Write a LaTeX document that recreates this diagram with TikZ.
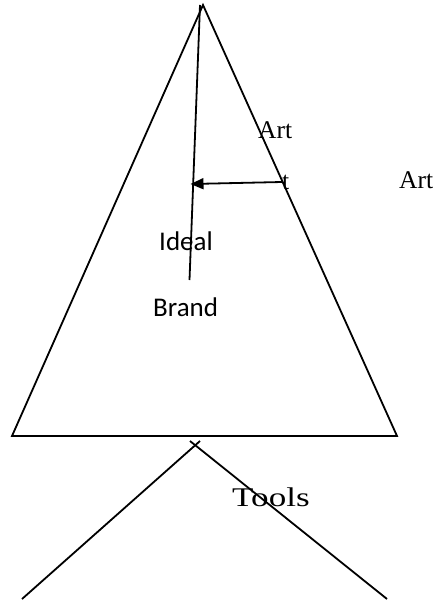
\documentclass[tikz,border=0pt]{standalone}
\usepackage{fontspec}
\setmainfont{Liberation Serif}
\newfontfamily\brandFont{Carlito}
\usetikzlibrary{arrows.meta}
\usetikzlibrary{positioning}
\def\serifSize{\fontsize{25.5}{30}\selectfont}
\def\sansSize{\fontsize{27}{32}\selectfont\brandFont}
\tikzset{
  edge/.style  = {draw, line width=1.8pt},
  word/.style  = {inner sep=0, anchor=base west, font=\serifSize},
  sword/.style = {inner sep=0, anchor=base west, font=\sansSize},
}
\begin{document}
\begin{tikzpicture}[x=1pt, y=1pt, >={Triangle[length=13pt,width=11pt]}]
  \useasboundingbox (0,0) rectangle (437,-605);

  % pyramid
  \coordinate (Apex) at (203,-5);
  \coordinate (BaseL) at (12,-436);
  \coordinate (BaseR) at (397,-436);
  \draw[edge] (BaseL) -- (Apex) -- (BaseR) -- cycle;

  % axis inside the pyramid
  \coordinate (AxisTop) at (200,-5);
  \coordinate (AxisEnd) at (189.5,-280);
  \draw[edge] (AxisTop) -- (AxisEnd);

  \coordinate (ArtTail) at (282,-182);
  \coordinate (ArtHead) at (190.5,-184);
  \draw[edge,->] (ArtTail) -- (ArtHead);

  % labels
  \node[word] (ArtUp) at (258,-138) {Art};
  \node[word] (ArtT) at (282,-189) {t};
  \node[word] (ArtRight) at (399,-188) {Art};
  \node[sword] (Ideal) at (159,-250) {Ideal};
  \node[sword] (Brand) at (153,-316) {Brand};

  % roots below
  \coordinate (RootL) at (200,-441);
  \coordinate (RootR) at (190,-441);
  \coordinate (FootL) at (22,-599);
  \coordinate (FootR) at (387,-599);
  \draw[edge] (RootL) -- (FootL);
  \draw[edge] (RootR) -- (FootR);
  \node[word, font=\fontsize{27}{32}\selectfont\addfontfeature{FakeStretch=1.3}] (Tools) at (232,-506) {Tools};
\end{tikzpicture}
\end{document}
